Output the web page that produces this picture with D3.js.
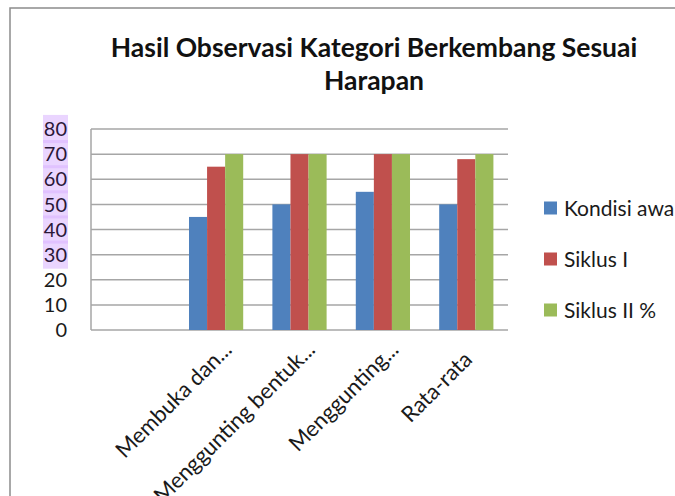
<!DOCTYPE html>
<html lang="id">
  <head>
    <meta charset="UTF-8" />
    <title>Hasil Observasi Kategori Berkembang Sesuai Harapan</title>
    <script src="https://d3js.org/d3.v7.min.js"></script>
    <style>
      body { margin: 0; background: #fff; }
      svg { display: block; font-family: Lato, "Open Sans", sans-serif; }
      .grid line { stroke: #a6a6a6; stroke-width: 1.5; }
      .ytick { font-size: 20px; fill: #1a1a1a; }
      .ytick.hl { fill: #2a1838; }
      .xlab { font-size: 22px; fill: #1a1a1a; }
      .legend text { font-size: 21px; fill: #1a1a1a; }
    </style>
  </head>
  <body>
    <div id="chart"></div>
    <script>
      // data dari gambar
      const categories = ["", "Membuka dan...", "Menggunting bentuk...", "Menggunting...", "Rata-rata"];
      const series = ["Kondisi awal", "Siklus I", "Siklus II %"];
      const kondisiAwal = [null, 45, 50, 55, 50];
      const siklusI = [null, 65, 70, 70, 68];
      const siklusII = [null, 70, 70, 70, 70];
      const yTicks = [0, 10, 20, 30, 40, 50, 60, 70, 80];
      const highlighted = [30, 40, 50, 60, 70, 80];

      const values = [kondisiAwal, siklusI, siklusII];
      const colors = ["#4f81bd", "#c0504d", "#9bbb59"];

      const width = 675;
      const height = 496;
      const plot = { left: 91, right: 508, top: 129, bottom: 330 };

      const svg = d3.select("#chart").append("svg").attr("width", width).attr("height", height);

      // bingkai luar
      svg.append("path")
        .attr("d", `M10,${height} V8 H${width}`)
        .attr("fill", "none")
        .attr("stroke", "#8c8c8c")
        .attr("stroke-width", 1.5);

      // judul
      const title = svg.append("text")
        .attr("text-anchor", "middle")
        .attr("font-weight", "bold")
        .attr("font-size", 26.5)
        .attr("fill", "#111");
      title.append("tspan").attr("x", 374).attr("y", 57).text("Hasil Observasi Kategori Berkembang Sesuai");
      title.append("tspan").attr("x", 374).attr("y", 90).text("Harapan");

      const x = d3.scaleBand().domain(categories).range([plot.left, plot.right])
        .paddingInner(0.35).paddingOuter(0.175);
      const xs = d3.scaleBand().domain(series).range([0, x.bandwidth()]);
      const y = d3.scaleLinear().domain([0, 80]).range([plot.bottom, plot.top]);

      // garis grid
      svg.append("g").attr("class", "grid")
        .selectAll("line")
        .data(yTicks)
        .join("line")
        .attr("x1", plot.left)
        .attr("x2", plot.right)
        .attr("y1", (d) => y(d))
        .attr("y2", (d) => y(d));

      svg.append("line")
        .attr("x1", plot.left).attr("x2", plot.left)
        .attr("y1", plot.top).attr("y2", plot.bottom)
        .attr("stroke", "#a6a6a6").attr("stroke-width", 1.5);

      // label sumbu y dengan sorotan ungu
      const step = y(0) - y(10);
      svg.append("g")
        .selectAll("rect")
        .data(highlighted)
        .join("rect")
        .attr("x", 43)
        .attr("y", (d) => y(d) - step / 2 - 1.5)
        .attr("width", 25)
        .attr("height", step + 3)
        .attr("fill", "#d9b3ff")
        .attr("opacity", 0.55);

      svg.append("g")
        .selectAll("text")
        .data(yTicks)
        .join("text")
        .attr("class", (d) => (highlighted.includes(d) ? "ytick hl" : "ytick"))
        .attr("x", 67)
        .attr("y", (d) => y(d))
        .attr("dy", "0.36em")
        .attr("text-anchor", "end")
        .text((d) => d);

      // batang
      const rows = categories.map((c, i) => ({ c, v: series.map((s, j) => ({ s, j, val: values[j][i] })) }));
      svg.append("g")
        .selectAll("g")
        .data(rows)
        .join("g")
        .attr("transform", (d) => `translate(${x(d.c)},0)`)
        .selectAll("rect")
        .data((d) => d.v.filter((e) => e.val != null))
        .join("rect")
        .attr("x", (d) => xs(d.s))
        .attr("width", xs.bandwidth())
        .attr("y", (d) => y(d.val))
        .attr("height", (d) => y(0) - y(d.val))
        .attr("fill", (d) => colors[d.j]);

      // label kategori
      svg.append("g")
        .selectAll("text")
        .data(categories.filter((c) => c !== ""))
        .join("text")
        .attr("class", "xlab")
        .attr("text-anchor", "end")
        .attr("dx", (d) => (d.endsWith("...") ? 0 : -14))
        .attr("transform", (d) => `translate(${x(d) + x.bandwidth() / 2 + 17},${plot.bottom + 21}) rotate(-45)`)
        .text((d) => d);

      // legenda
      const legend = svg.append("g").attr("class", "legend")
        .selectAll("g")
        .data(series)
        .join("g")
        .attr("transform", (d, i) => `translate(544,${208 + i * 51})`);
      legend.append("rect")
        .attr("y", -6.5).attr("width", 13).attr("height", 13)
        .attr("fill", (d, i) => colors[i]);
      legend.append("text")
        .attr("x", 20).attr("dy", "0.36em")
        .text((d) => d);
    </script>
  </body>
</html>
